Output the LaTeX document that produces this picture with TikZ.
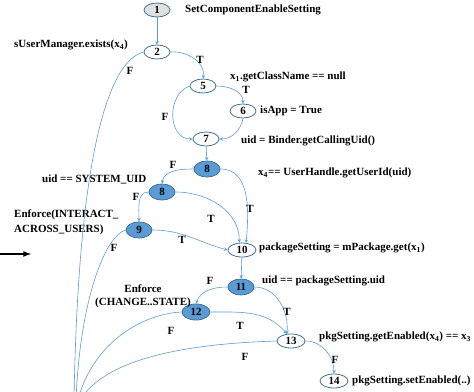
\documentclass[tikz,border=0pt]{standalone}
\usepackage{fontspec}
\setmainfont{Liberation Serif}
\usetikzlibrary{shapes.geometric}
\definecolor{edgeblue}{HTML}{5B9BD5}
\definecolor{rimblue}{HTML}{41719C}
\newcommand{\lblfont}{\fontsize{11}{13}\selectfont\bfseries}
\tikzset{
	blk/.style={ellipse, draw=rimblue, line width=0.8pt, minimum width=26pt, minimum height=14pt, inner sep=0pt, font=\lblfont},
	hot/.style={blk, fill=edgeblue, minimum height=16pt},
	lbl/.style={font=\lblfont, anchor=west, inner sep=0pt},
	tf/.style={font=\lblfont, inner sep=0pt},
	flow/.style={draw=edgeblue, line width=0.6pt},
	go/.style={flow, ->, >=stealth}
}
\newcommand{\sub}[1]{\textsubscript{#1}}

\begin{document}
\begin{tikzpicture}[x=1pt, y=-1pt]
			%%%%% START %%%%%
			\useasboundingbox (0,0) rectangle (474,391);
			
			\node[blk, fill=black!12] (n1) at (157,10) {1};
			\node[blk] (n2) at (157,52) {2};
			\node[blk] (n5) at (203,86) {5};
			\node[blk] (n6) at (243,111) {6};
			\node[blk] (n7) at (206,139) {7};
			\node[hot] (n8) at (207,169) {8};
			\node[hot] (n8b) at (162,192) {8};
			\node[hot] (n9) at (139,230) {9};
			\node[blk, minimum width=28pt] (n10) at (242,250) {10};
			\node[hot] (n11) at (241,287) {11};
			\node[hot, minimum width=28pt] (n12) at (196,312) {12};
			\node[blk, minimum width=28pt] (n13) at (291,341) {13};
			\node[blk, minimum width=28pt] (n14) at (334,381) {14};
			
			\coordinate (sink) at (74,400);
			
			\node[lbl] (t1) at (185,10) {SetComponentEnableSetting};
			\node[lbl] (t2) at (14,45) {sUserManager.exists(x\sub{4})};
			\node[lbl] (t5) at (230,77) {x\sub{1}.getClassName == null};
			\node[lbl] (t6) at (260,111) {isApp = True};
			\node[lbl] (t7) at (241,141) {uid = Binder.getCallingUid()};
			\node[lbl] (t8) at (258,173) {x\sub{4}== UserHandle.getUserId(uid)};
			\node[lbl] (t8b) at (42,179) {uid == SYSTEM\_UID};
			\node[lbl, align=left] (t9) at (14,222) {Enforce(INTERACT\_\\[2pt]ACROSS\_USERS)};
			\node[lbl] (t10) at (259,248) {packageSetting = mPackage.get(x\sub{1})};
			\node[lbl] (t11) at (262,281) {uid == packageSetting.uid};
			\node[lbl, align=center, anchor=center] (t12) at (143,296) {Enforce\\(CHANGE..STATE)};
			\node[lbl] (t13) at (319,337) {pkgSetting.getEnabled(x\sub{4}) == x\sub{3}};
			\node[lbl] (t14) at (352,381) {pkgSetting.setEnabled(..)};
			
			\draw[go] (n1) -- (n2);
			\draw[go] (n2.east) to[out=5, in=80] (n5.north);
			\draw[flow] (n2.west) .. controls (105,62) and (78,170) .. (sink);
			\draw[go] (n5.east) to[out=0, in=90] (n6.north);
			\draw[go] (n5.west) to[out=200, in=180, looseness=1.2] (n7.west);
			\draw[go] (n6.south) to[out=-100, in=0] (n7.east);
			\draw[go] (n7) -- (n8);
			\draw[go] (n8.west) to[out=180, in=80] (n8b.north);
			\draw[go] (n8.east) to[out=0, in=85] (n10.60);
			\draw[go] (n8b.west) to[out=180, in=90] (n9.north);
			\draw[go] (n8b.east) to[out=0, in=90] (n10.110);
			\draw[go] (n9.east) to[out=0, in=165] (n10.west);
			\draw[flow] (n9.west) .. controls (105,236) and (80,300) .. ([xshift=2pt]sink);
			\draw[go] (n10) -- (n11);
			\draw[go] (n11.west) to[out=180, in=70] (n12.north);
			\draw[go] (n11.east) to[out=0, in=85] (n13.120);
			\draw[go] (n12.east) to[out=0, in=130] (n13.120);
			\draw[flow] (n12.west) .. controls (140,314) and (92,345) .. ([xshift=4pt]sink);
			\draw[flow] (n13.west) .. controls (180,344) and (105,360) .. ([xshift=6pt]sink);
			\draw[go] (n13.east) to[out=0, in=90] (n14.north);
			
			\node[tf] (e25) at (200,60) {T};
			\node[tf] (e2f) at (130,71) {F};
			\node[tf] (e56) at (246,90) {T};
			\node[tf] (e57) at (165,117) {F};
			\node[tf] (e88) at (173,165) {F};
			\node[tf] (e810) at (250,209) {T};
			\node[tf] (e89) at (136,197) {F};
			\node[tf] (e8b10) at (211,219) {T};
			\node[tf] (e910) at (182,240) {T};
			\node[tf] (e9f) at (114,248) {F};
			\node[tf] (e1112) at (210,281) {F};
			\node[tf] (e1113) at (287,312) {T};
			\node[tf] (e1213) at (240,326) {T};
			\node[tf] (e12f) at (171,331) {F};
			\node[tf] (e13f) at (245,357) {F};
			\node[tf] (e1314) at (335,360) {F};
			
			\coordinate (in0) at (0,254);
			\coordinate (in1) at (31,254);
			\draw[line width=1.6pt, -{latex}, >=latex] (in0) -- (in1);
			%%%%% END %%%%%
\end{tikzpicture}
\end{document}
